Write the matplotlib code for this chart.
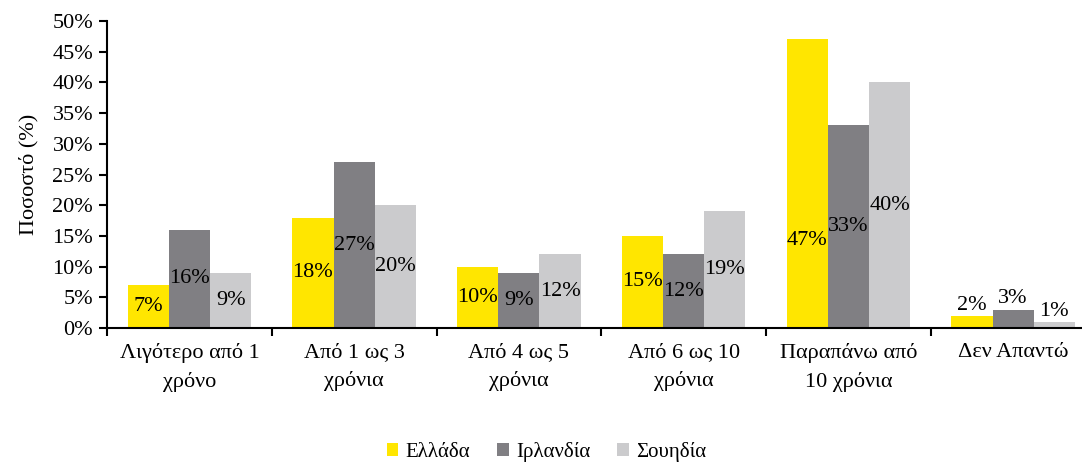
import matplotlib
matplotlib.use("Agg")
import matplotlib.pyplot as plt
import numpy as np

plt.rcParams['font.family'] = ['Liberation Serif', 'DejaVu Serif']

categories = ["Λιγότερο από 1\nχρόνο", "Από 1 ως 3\nχρόνια", "Από 4 ως 5\nχρόνια",
              "Από 6 ως 10\nχρόνια", "Παραπάνω από\n10 χρόνια", "Δεν Απαντώ"]
series = ["Ελλάδα", "Ιρλανδία", "Σουηδία"]
greece = [7, 18, 10, 15, 47, 2]
ireland = [16, 27, 9, 12, 33, 3]
sweden = [9, 20, 12, 19, 40, 1]
colors = ["#FFE600", "#807F83", "#CBCBCD"]

fs = 16

fig = plt.figure(figsize=(10.82, 4.62), dpi=100)
ax = fig.add_axes([0.0989, 0.29, 0.9136, 0.6645])

x = np.arange(len(categories))
w = 0.25
for k, (vals, name) in enumerate(zip([greece, ireland, sweden], series)):
    pos = x + (k - 1) * w
    ax.bar(pos, vals, w, color=colors[k], label=name, zorder=2)
    for i, v in enumerate(vals):
        if v < 5:
            ax.text(pos[i], v + 0.2, f"{v}%", ha='center', va='bottom', fontsize=fs)
        else:
            ly = v / 2
            if k == 0 and v == 47:
                ly = 14.3  # label sits lower in the tall bar
            ax.text(pos[i], ly, f"{v}%", ha='center', va='center', fontsize=fs)

ax.set_ylim(0, 50)
ax.set_xlim(-0.5, len(categories) - 0.5)
ax.set_yticks(np.arange(0, 51, 5))
ax.set_yticklabels([f"{t}%" for t in range(0, 51, 5)], fontsize=fs)
ax.set_xticks(x)
ax.set_xticklabels(categories, fontsize=fs, linespacing=1.6)
ax.set_xticks(np.arange(-0.5, len(categories), 1), minor=True)
ax.tick_params(axis='x', which='major', length=0, pad=11)
ax.tick_params(axis='x', which='minor', length=6, width=1.5, direction='out')
ax.tick_params(axis='y', length=6, width=1.5, direction='out', pad=4)
for s in ['top', 'right']:
    ax.spines[s].set_visible(False)
ax.spines['left'].set_linewidth(1.5)
ax.spines['bottom'].set_linewidth(1.5)
ax.set_ylabel("Ποσοστό (%)", fontsize=fs, labelpad=10)

fig.legend(loc='center', bbox_to_anchor=(0.505, 0.022), ncol=3, frameon=False,
           fontsize=15, handlelength=0.55, handleheight=0.55, handletextpad=0.35,
           columnspacing=1.3)

fig.savefig("out.png", dpi=100)
